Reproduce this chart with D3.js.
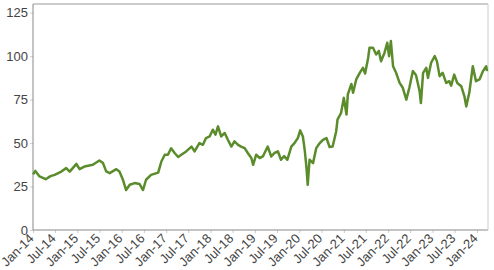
<!DOCTYPE html>
<html><head><meta charset="utf-8">
<script src="https://cdn.jsdelivr.net/npm/d3@7"></script>
<style>body{margin:0;background:#fff}</style></head><body>
<svg id="c" width="494" height="270"></svg>
<script>
const dates=["2014-01-02","2014-01-20","2014-02-24","2014-04-15","2014-05-25","2014-06-28","2014-08-22","2014-10-01","2014-10-30","2014-12-24",
"2015-01-19","2015-02-28","2015-05-08","2015-07-01","2015-07-31","2015-08-26","2015-09-24","2015-11-17","2015-12-13",
"2016-01-11","2016-02-06","2016-03-07","2016-04-16","2016-05-26","2016-06-24","2016-07-19","2016-08-29","2016-10-27","2016-11-22","2016-12-20",
"2017-01-15","2017-02-10","2017-03-11","2017-04-09","2017-05-05","2017-06-14","2017-07-28","2017-08-22","2017-10-01","2017-10-30","2017-11-24","2017-12-24",
"2018-01-19","2018-02-10","2018-03-03","2018-03-29","2018-04-27","2018-05-23","2018-06-21","2018-07-16","2018-08-15","2018-09-09","2018-10-08","2018-11-03","2018-12-02","2018-12-17",
"2019-01-11","2019-02-09","2019-03-07","2019-04-16","2019-05-15","2019-06-10","2019-07-09","2019-08-03","2019-08-29","2019-09-24","2019-10-27","2019-11-22","2019-12-20",
"2020-01-08","2020-01-30","2020-02-14","2020-02-28","2020-03-10","2020-03-25","2020-04-23","2020-05-19","2020-06-17","2020-07-13","2020-08-11","2020-09-06","2020-10-01","2020-10-30","2020-11-10","2020-12-09",
"2021-01-01","2021-01-23","2021-02-03","2021-03-04","2021-03-18","2021-04-13","2021-05-12","2021-06-07","2021-06-25","2021-07-20","2021-07-31","2021-08-29","2021-09-24","2021-10-16","2021-11-03","2021-12-02","2021-12-24",
"2022-01-08","2022-01-23","2022-02-10","2022-03-07","2022-04-05","2022-05-01","2022-05-30","2022-06-24","2022-07-23","2022-08-18","2022-09-16","2022-09-27","2022-10-15","2022-11-10","2022-11-24","2022-12-20",
"2023-01-19","2023-02-06","2023-02-28","2023-03-25","2023-04-23","2023-05-19","2023-06-03","2023-06-28","2023-07-23","2023-08-25","2023-09-20","2023-10-05","2023-10-30","2023-11-28","2023-12-24",
"2024-01-22","2024-02-20","2024-03-17","2024-03-24"];
const values=[32,34,30.8,29.2,31,31.7,33.6,35.6,33.6,38,
35,36.5,37.5,40,38.5,33.7,32.7,35,33.7,
28.9,23,26,27,26.5,23,28.9,31.7,33,39.4,43.3,
43.3,47,44.3,42,43.3,45.2,48,45.2,50,49,52.9,53.8,
57.7,54.8,59.6,53.8,55.8,51.9,48,51,49,48,47.1,44.3,41.4,37.5,
43.3,41.4,42.3,48,42.3,44.3,45.2,40.4,42.5,40.4,48,50,52.9,
57.3,53.8,46.2,36.5,26,40.4,38.5,47.1,50,51.9,52.9,47.7,48,56.7,63.5,67.3,
76,66.4,78,84,78.9,86.6,90.4,93.3,90,99,104.8,104.8,101,103,97.1,102,107.7,
100,108.7,94.2,90.4,84.6,81.8,75,81.8,91.4,89,80,73,90.4,93.3,87.5,96.2,
100,97,88.5,90.4,84.6,85.6,83,89.4,84.6,82.7,76.9,71.1,78.9,94.2,85.6,
86.6,91.4,94.2,91.4];
const tickDates=["2014-01-01","2014-07-01","2015-01-01","2015-07-01","2016-01-01","2016-07-01","2017-01-01","2017-07-01","2018-01-01","2018-07-01","2019-01-01","2019-07-01","2020-01-01","2020-07-01","2021-01-01","2021-07-01","2022-01-01","2022-07-01","2023-01-01","2023-07-01","2024-01-01"];
const tickLabels=["Jan-14","Jul-14","Jan-15","Jul-15","Jan-16","Jul-16","Jan-17","Jul-17","Jan-18","Jul-18","Jan-19","Jul-19","Jan-20","Jul-20","Jan-21","Jul-21","Jan-22","Jul-22","Jan-23","Jul-23","Jan-24"];
const yTicks=[0,25,50,75,100,125];

const parse=d3.utcParse("%Y-%m-%d");
const data=dates.map((d,i)=>({d:parse(d),v:values[i]}));
const L=33,R=488,T=4,B=230;
const x=d3.scaleUtc().domain([parse("2014-01-01"),parse("2024-04-01")]).range([L,R]);
const y=d3.scaleLinear().domain([0,130]).range([B,T]);
const svg=d3.select("#c");
const font="'Liberation Sans', Arial, sans-serif";

const ya=svg.append("g").attr("transform",`translate(${L},0)`)
  .call(d3.axisLeft(y).tickValues(yTicks).tickSize(3).tickPadding(2));
ya.select(".domain").remove();
ya.selectAll("line").attr("stroke","#ccc");
ya.selectAll("text").attr("font-family",font).attr("font-size",13).attr("fill","#444");

const xa=svg.append("g").attr("transform",`translate(0,${B})`)
  .call(d3.axisBottom(x).tickValues(tickDates.map(parse)).tickFormat((d,i)=>tickLabels[i]).tickSize(3).tickPadding(2));
xa.select(".domain").remove();
xa.selectAll("line").attr("stroke","#ccc");
xa.selectAll("text").attr("font-family",font).attr("font-size",13).attr("fill","#444")
  .attr("text-anchor","end").attr("x",0).attr("y",0).attr("dy","0.35em")
  .attr("transform","translate(-2,6) rotate(-45)");

svg.append("line").attr("x1",L).attr("x2",R).attr("y1",T).attr("y2",T).attr("stroke","#999");
svg.append("line").attr("x1",L).attr("x2",L).attr("y1",T).attr("y2",B).attr("stroke","#888");
svg.append("line").attr("x1",L).attr("x2",R).attr("y1",B).attr("y2",B).attr("stroke","#888");
svg.append("line").attr("x1",R).attr("x2",R).attr("y1",T).attr("y2",B).attr("stroke","#ccc");

svg.append("path").datum(data).attr("fill","none").attr("stroke","#5a8c2b").attr("stroke-width",2.5)
  .attr("stroke-linejoin","round")
  .attr("d",d3.line().x(d=>x(d.d)).y(d=>y(d.v)));
</script></body></html>
